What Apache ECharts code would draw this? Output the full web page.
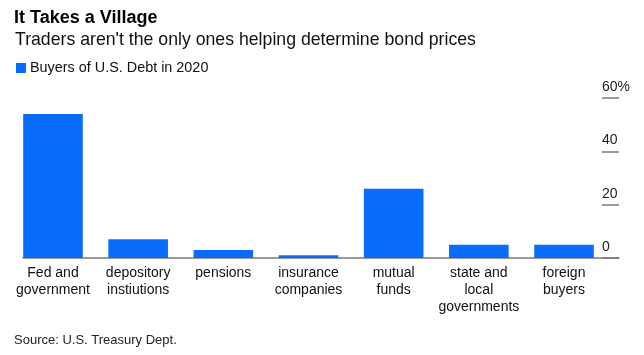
<!DOCTYPE html>
<html>
<head>
<meta charset="utf-8">
<script src="https://cdn.jsdelivr.net/npm/echarts@6/dist/echarts.min.js"></script>
<style>
html,body{margin:0;padding:0;background:#fff;}
#chart{width:644px;height:355px;}
</style>
</head>
<body>
<div id="chart"></div>
<script>
var categories = ['Fed and\ngovernment', 'depository\ninstiutions', 'pensions', 'insurance\ncompanies', 'mutual\nfunds', 'state and\nlocal\ngovernments', 'foreign\nbuyers'];
var buyers2020 = [54, 7, 3, 1, 26, 5, 5];
var yTicks = [0, 20, 40, 60];
var yTickLabels = ['0', '20', '40', '60%'];

var FONT = '"Liberation Sans", Arial, sans-serif';
var chart = echarts.init(document.getElementById('chart'), null, {renderer: 'canvas'});
var yMin = yTicks[0], yMax = yTicks[yTicks.length - 1], yStep = yTicks[1] - yTicks[0];

chart.setOption({
  animation: false,
  backgroundColor: '#fff',
  textStyle: {fontFamily: FONT},
  title: [
    {text: 'It Takes a Village', left: 14, top: 9, padding: 0,
     textStyle: {fontFamily: FONT, fontSize: 18, fontWeight: 'bold', color: '#000'}},
    {text: "Traders aren't the only ones helping determine bond prices", left: 15, top: 31, padding: 0,
     textStyle: {fontFamily: FONT, fontSize: 17.7, fontWeight: 'normal', color: '#111'}},
    {text: 'Source: U.S. Treasury Dept.', left: 14, top: 334, padding: 0,
     textStyle: {fontFamily: FONT, fontSize: 13, fontWeight: 'normal', color: '#222'}}
  ],
  legend: {
    left: 16, top: 61, padding: 0,
    icon: 'rect', itemWidth: 10, itemHeight: 10, itemGap: 6,
    textStyle: {fontFamily: FONT, fontSize: 14.4, color: '#111', padding: [0, 0, 0, -1]},
    data: ['Buyers of U.S. Debt in 2020']
  },
  grid: [
    {left: 10.4, right: 37.4, top: 98, bottom: 97},
    {left: 23, right: 25, top: 98, bottom: 97}
  ],
  xAxis: [
    {type: 'category', gridIndex: 0, data: categories,
     axisLine: {show: false}, axisTick: {show: false},
     axisLabel: {interval: 0, margin: 7, fontFamily: FONT, fontSize: 14, lineHeight: 17, color: '#111'}},
    {type: 'value', gridIndex: 1, min: 0, max: 1,
     axisLine: {show: true, onZero: false, lineStyle: {color: '#7a7a7a', width: 1.5}},
     axisTick: {show: false}, axisLabel: {show: false}, splitLine: {show: false}}
  ],
  yAxis: [
    {type: 'value', gridIndex: 0, min: yMin, max: yMax, interval: yStep, show: false},
    {type: 'value', gridIndex: 1, position: 'right', min: yMin, max: yMax, interval: yStep,
     axisLine: {show: false, onZero: false},
     axisTick: {show: true, inside: true, length: 17, lineStyle: {color: '#7a7a7a', width: 1.5}},
     splitLine: {show: false},
     axisLabel: {inside: true, margin: 17, align: 'left', verticalAlign: 'bottom', padding: [0, 0, 4, 0],
       fontFamily: FONT, fontSize: 14, color: '#222',
       formatter: function (v) { var i = yTicks.indexOf(v); return i >= 0 ? yTickLabels[i] : ''; }}}
  ],
  series: [{
    name: 'Buyers of U.S. Debt in 2020', type: 'bar',
    xAxisIndex: 0, yAxisIndex: 0,
    data: buyers2020, barWidth: '70%',
    itemStyle: {color: '#0a6cfa'}
  }]
});
</script>
</body>
</html>
